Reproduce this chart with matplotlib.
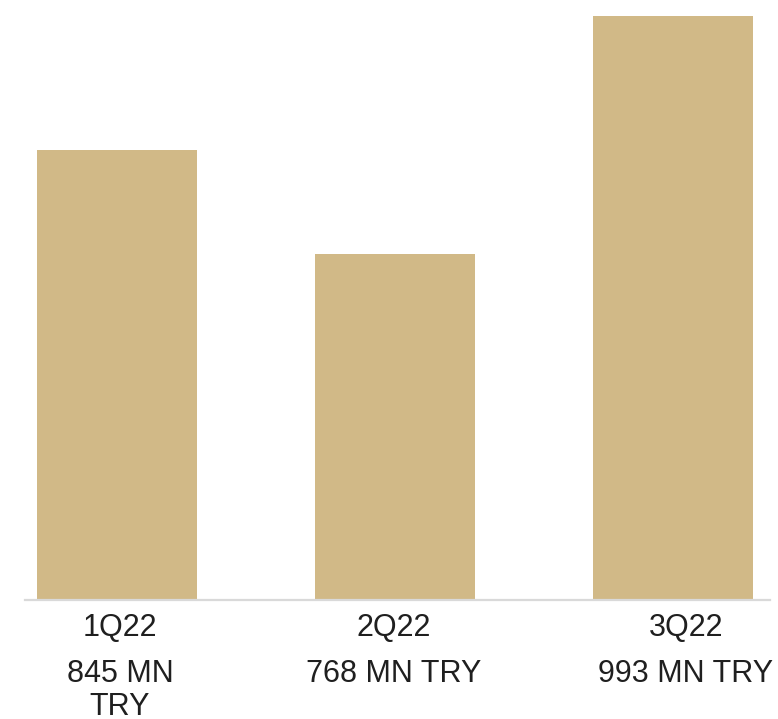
import matplotlib
matplotlib.use("Agg")
import matplotlib.pyplot as plt
from matplotlib.transforms import blended_transform_factory, offset_copy

# ---- data ----
quarters = ["1Q22", "2Q22", "3Q22"]
value_labels = ["845 MN\nTRY", "768 MN TRY", "993 MN TRY"]
bar_heights = [450, 346, 584]   # relative bar heights as drawn

# ---- layout ----
W, H, DPI = 778, 719, 100
fig = plt.figure(figsize=(W / DPI, H / DPI), dpi=DPI)
fig.patch.set_facecolor("white")

ax = fig.add_axes([25 / W, 119 / H, 745 / W, 600 / H])
x = list(range(len(quarters)))
ax.bar(x, bar_heights, width=0.576, color="#D1B987", zorder=2)
ax.set_xlim(-0.331, 2.349)
ax.set_ylim(0, 600)
for s in ["top", "right", "left"]:
    ax.spines[s].set_visible(False)
ax.spines["bottom"].set_color("#D9D9D9")
ax.spines["bottom"].set_linewidth(1.6)
ax.set_yticks([])
ax.set_xticks([])

font = dict(family="Liberation Sans", fontsize=22, color="#1F1F1F")
label_dx_px = [3, -1, 13]
tr = blended_transform_factory(ax.transData, fig.transFigure)
for i, (q, v) in enumerate(zip(quarters, value_labels)):
    t = offset_copy(tr, fig=fig, x=label_dx_px[i] * 72 / DPI, y=0, units="points")
    ax.text(x[i], (H - 636) / H, q, transform=t, ha="center", va="baseline", **font)
    for j, line in enumerate(v.split("\n")):
        ax.text(x[i], (H - 682 - 33 * j) / H, line, transform=t, ha="center",
                va="baseline", **font)

fig.savefig("out.png", dpi=DPI)
